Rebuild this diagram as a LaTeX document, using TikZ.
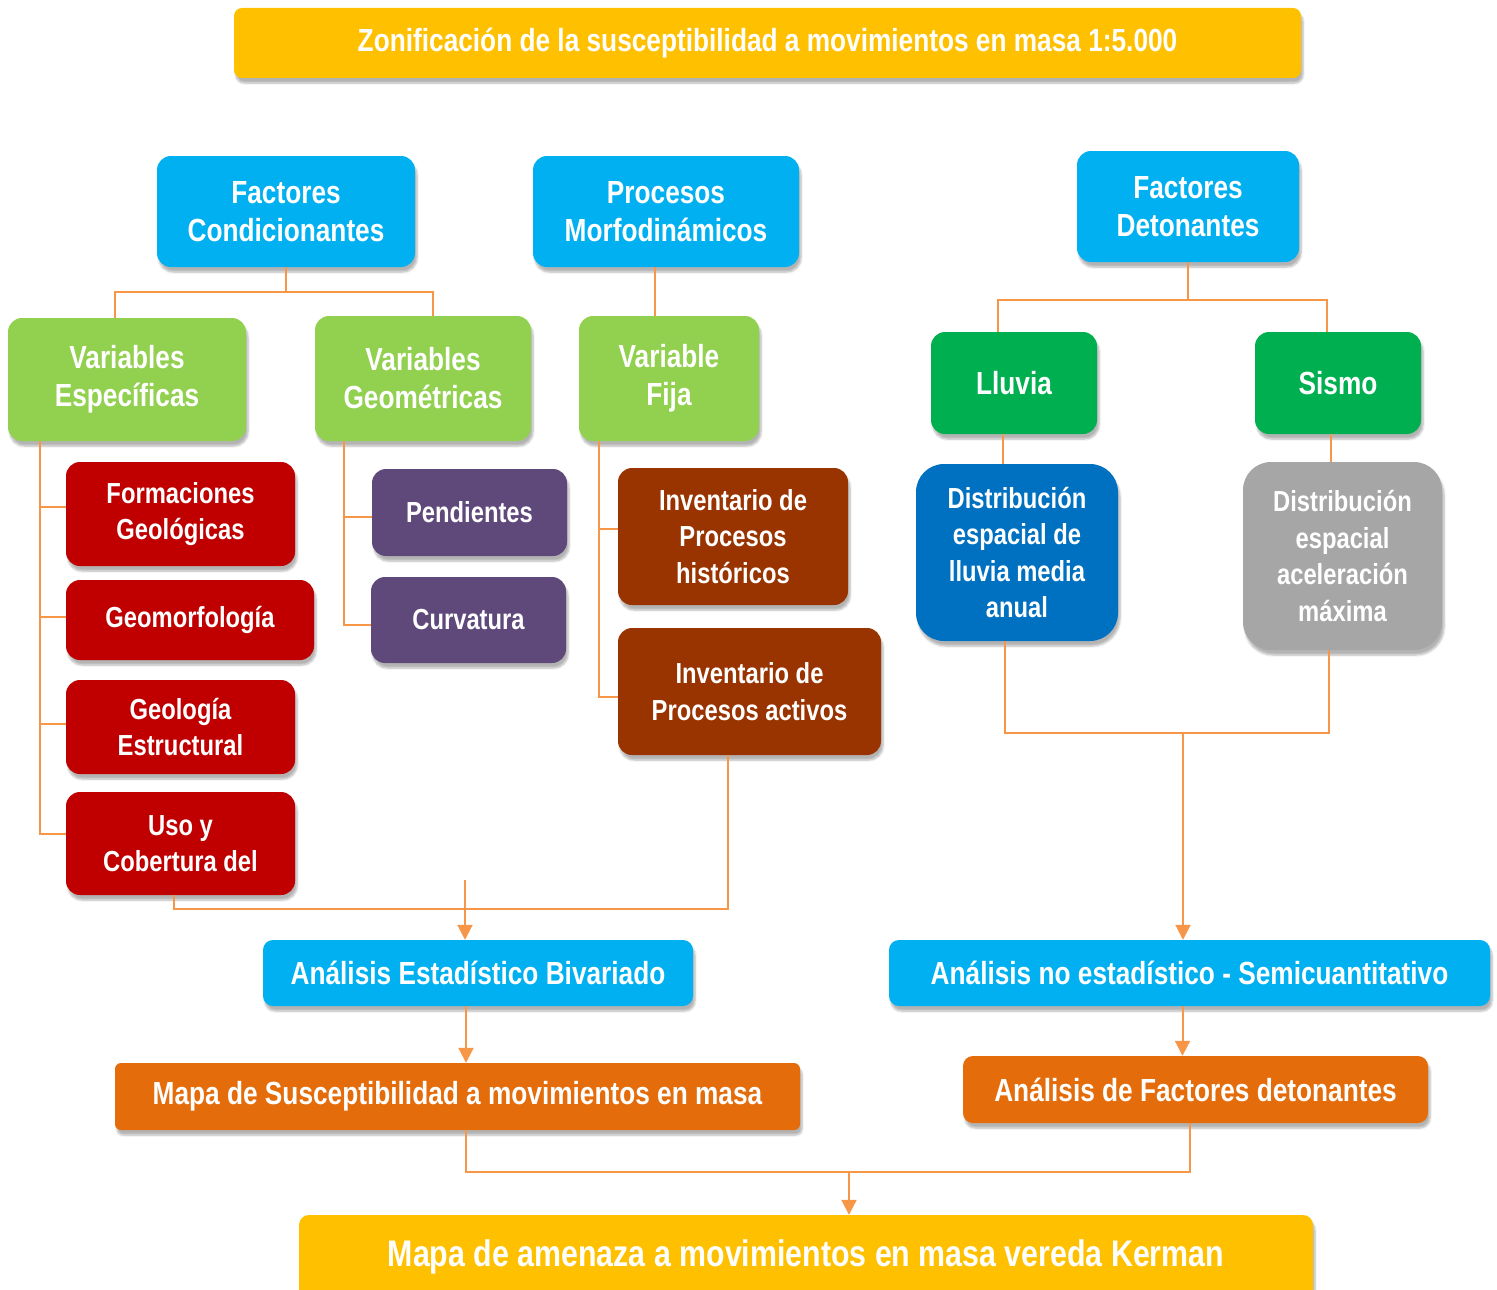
\documentclass[tikz,border=0pt]{standalone}
\usepackage{fontspec}
\setmainfont{Liberation Sans}[FakeStretch=0.82]
\usetikzlibrary{arrows.meta,shadows.blur}

\definecolor{amarillo}{HTML}{FFC000}
\definecolor{celeste}{HTML}{00B0F0}
\definecolor{verdeclaro}{HTML}{92D050}
\definecolor{verde}{HTML}{00B050}
\definecolor{rojo}{HTML}{C00000}
\definecolor{morado}{HTML}{5F497A}
\definecolor{cafe}{HTML}{993300}
\definecolor{azul}{HTML}{0070C0}
\definecolor{gris}{HTML}{A6A6A6}
\definecolor{naranja}{HTML}{E46C0A}
\definecolor{linea}{HTML}{F79646}

\begin{document}
\begin{tikzpicture}[x=1pt,y=-1pt,
  caja/.style={text=white, align=center, inner sep=0pt, rounded corners=14pt,
    blur shadow={shadow xshift=2pt,shadow yshift=-5pt,shadow blur steps=6,shadow opacity=30},
    font=\fontsize{32}{38}\selectfont\bfseries},
  cajita/.style={caja, font=\fontsize{29}{36.5}\selectfont\bfseries},
  conn/.style={draw=linea, line width=2pt},
  flecha/.style={conn, -{Triangle[width=15pt,length=15pt]}}]

  \useasboundingbox (0,0) rectangle (1497,1290);

  % titulo
  \node[caja, fill=amarillo, rounded corners=8pt, minimum width=1067pt, minimum height=70pt] (titulo) at (767.5,43)
    {Zonificación de la susceptibilidad a movimientos en masa 1:5.000};

  % factores
  \node[caja, fill=celeste, minimum width=258pt, minimum height=111pt] (fc) at (286,211.5) {Factores\\Condicionantes};
  \node[caja, fill=celeste, minimum width=266pt, minimum height=111pt] (pm) at (666,211.5) {Procesos\\Morfodinámicos};
  \node[caja, fill=celeste, minimum width=222pt, minimum height=111pt] (fd) at (1188,206.5) {Factores\\Detonantes};

  % variables
  \node[caja, fill=verdeclaro, minimum width=238pt, minimum height=123pt] (ve) at (127,379.5) {Variables\\Específicas};
  \node[caja, fill=verdeclaro, minimum width=216pt, minimum height=125pt] (vg) at (423,378.5) {Variables\\Geométricas};
  \node[caja, fill=verdeclaro, minimum width=180pt, minimum height=125pt] (vf) at (669,378.5) {Variable\\Fija};
  \node[caja, fill=verde, minimum width=166pt, minimum height=102pt] (lluvia) at (1014,383) {Lluvia};
  \node[caja, fill=verde, minimum width=166pt, minimum height=102pt] (sismo) at (1338,383) {Sismo};

  % especificas
  \node[cajita, fill=rojo, minimum width=229pt, minimum height=104pt] (form) at (180.5,514) {Formaciones\\Geológicas};
  \node[cajita, fill=rojo, minimum width=248pt, minimum height=80pt] (geomorf) at (190,620) {Geomorfología};
  \node[cajita, fill=rojo, minimum width=229pt, minimum height=94pt] (geoest) at (180.5,727) {Geología\\Estructural};
  \node[cajita, fill=rojo, minimum width=229pt, minimum height=103pt] (uso) at (180.5,843.5) {Uso y\\Cobertura del};

  % geometricas
  \node[cajita, fill=morado, minimum width=195pt, minimum height=87pt] (pend) at (469.5,512.5) {Pendientes};
  \node[cajita, fill=morado, minimum width=195pt, minimum height=86pt] (curv) at (468.5,620) {Curvatura};

  % fija
  \node[cajita, fill=cafe, minimum width=230pt, minimum height=137pt] (invh) at (733,536.5) {Inventario de\\Procesos\\históricos};
  \node[cajita, fill=cafe, minimum width=263pt, minimum height=127pt] (inva) at (749.5,691.5) {Inventario de\\Procesos activos};

  % detonantes
  \node[cajita, fill=azul, rounded corners=28pt, minimum width=202pt, minimum height=177pt] (distll) at (1017,552.5)
    {Distribución\\espacial de\\lluvia media\\anual};
  \node[cajita, fill=gris, rounded corners=28pt, minimum width=199pt, minimum height=188pt] (distsis) at (1342.5,556)
    {Distribución\\espacial\\aceleración\\máxima};

  % analisis
  \node[caja, fill=celeste, rounded corners=10pt, minimum width=430pt, minimum height=66pt] (aeb) at (478,973) {Análisis Estadístico Bivariado};
  \node[caja, fill=celeste, rounded corners=10pt, minimum width=601pt, minimum height=66pt] (anes) at (1189.5,973) {Análisis no estadístico - Semicuantitativo};
  \node[caja, fill=naranja, rounded corners=6pt, minimum width=685pt, minimum height=67pt] (msus) at (457.5,1096.5) {Mapa de Susceptibilidad a movimientos en masa};
  \node[caja, fill=naranja, rounded corners=10pt, minimum width=465pt, minimum height=67pt] (afd) at (1195.5,1089.5) {Análisis de Factores detonantes};
  \node[caja, fill=amarillo, rounded corners=10pt, minimum width=1014pt, minimum height=90pt,
    font=\fontsize{37}{44}\selectfont\bfseries] (mam) at (806,1260) {\raisebox{14pt}{Mapa de amenaza a movimientos en masa vereda Kerman}};

  % conectores de arriba
  \draw[conn] (fc.south) -- ++(0,25) -| ([xshift=-12pt]ve.north);
  \draw[conn] (fc.south) ++(0,25) -| ([xshift=10pt]vg.north);
  \draw[conn] ([xshift=-11pt]pm.south) -- ([xshift=-11pt]pm.south |- vf.north);
  \draw[conn] (fd.south) -- ++(0,38) -| ([xshift=-16pt]lluvia.north);
  \draw[conn] (fd.south) ++(0,38) -| ([xshift=-11pt]sismo.north);

  % ramas
  \coordinate (tve) at ([xshift=-87pt]ve.south);
  \draw[conn] (tve) |- ([yshift=10pt]uso.west);
  \foreach \n/\d in {form/7,geomorf/3,geoest/3}
    \draw[conn] ([yshift=\d pt]\n.west) -- ([yshift=\d pt]\n.west -| tve);
  \coordinate (tvg) at ([xshift=-79pt]vg.south);
  \draw[conn] (tvg) |- ([yshift=-5pt]curv.west);
  \draw[conn] ([yshift=-4.5pt]pend.west) -- ([yshift=-4.5pt]pend.west -| tvg);
  \coordinate (tvf) at ([xshift=-70pt]vf.south);
  \draw[conn] (tvf) |- ([yshift=-5.5pt]inva.west);
  \draw[conn] ([yshift=7.5pt]invh.west) -- ([yshift=7.5pt]invh.west -| tvf);
  \draw[conn] ([xshift=-11pt]lluvia.south) -- ([xshift=-11pt]lluvia.south |- distll.north);
  \draw[conn] ([xshift=-7pt]sismo.south) -- ([xshift=-7pt]sismo.south |- distsis.north);

  % uniones de abajo
  \coordinate (jl) at (465,909);
  \coordinate (jlt) at (465,880);
  \draw[conn] ([xshift=-7pt]uso.south) |- (jl) -| ([xshift=-22pt]inva.south);
  \draw[flecha] (jlt) -- (jlt |- aeb.north);
  \coordinate (jr) at (1183,733);
  \draw[conn] ([xshift=-12pt]distll.south) |- (jr) -| ([xshift=-14pt]distsis.south);
  \draw[flecha] (jr) -- (jr |- anes.north);
  \draw[flecha] ([xshift=-12pt]aeb.south) -- ([xshift=-12pt]aeb.south |- msus.north);
  \draw[flecha] ([xshift=-7pt]anes.south) -- ([xshift=-7pt]anes.south |- afd.north);
  \coordinate (jb) at (849,1172);
  \draw[conn] ([xshift=8.5pt]msus.south) |- (jb) -| ([xshift=-5.5pt]afd.south);
  \draw[flecha] (jb) -- (jb |- mam.north);

\end{tikzpicture}
\end{document}
